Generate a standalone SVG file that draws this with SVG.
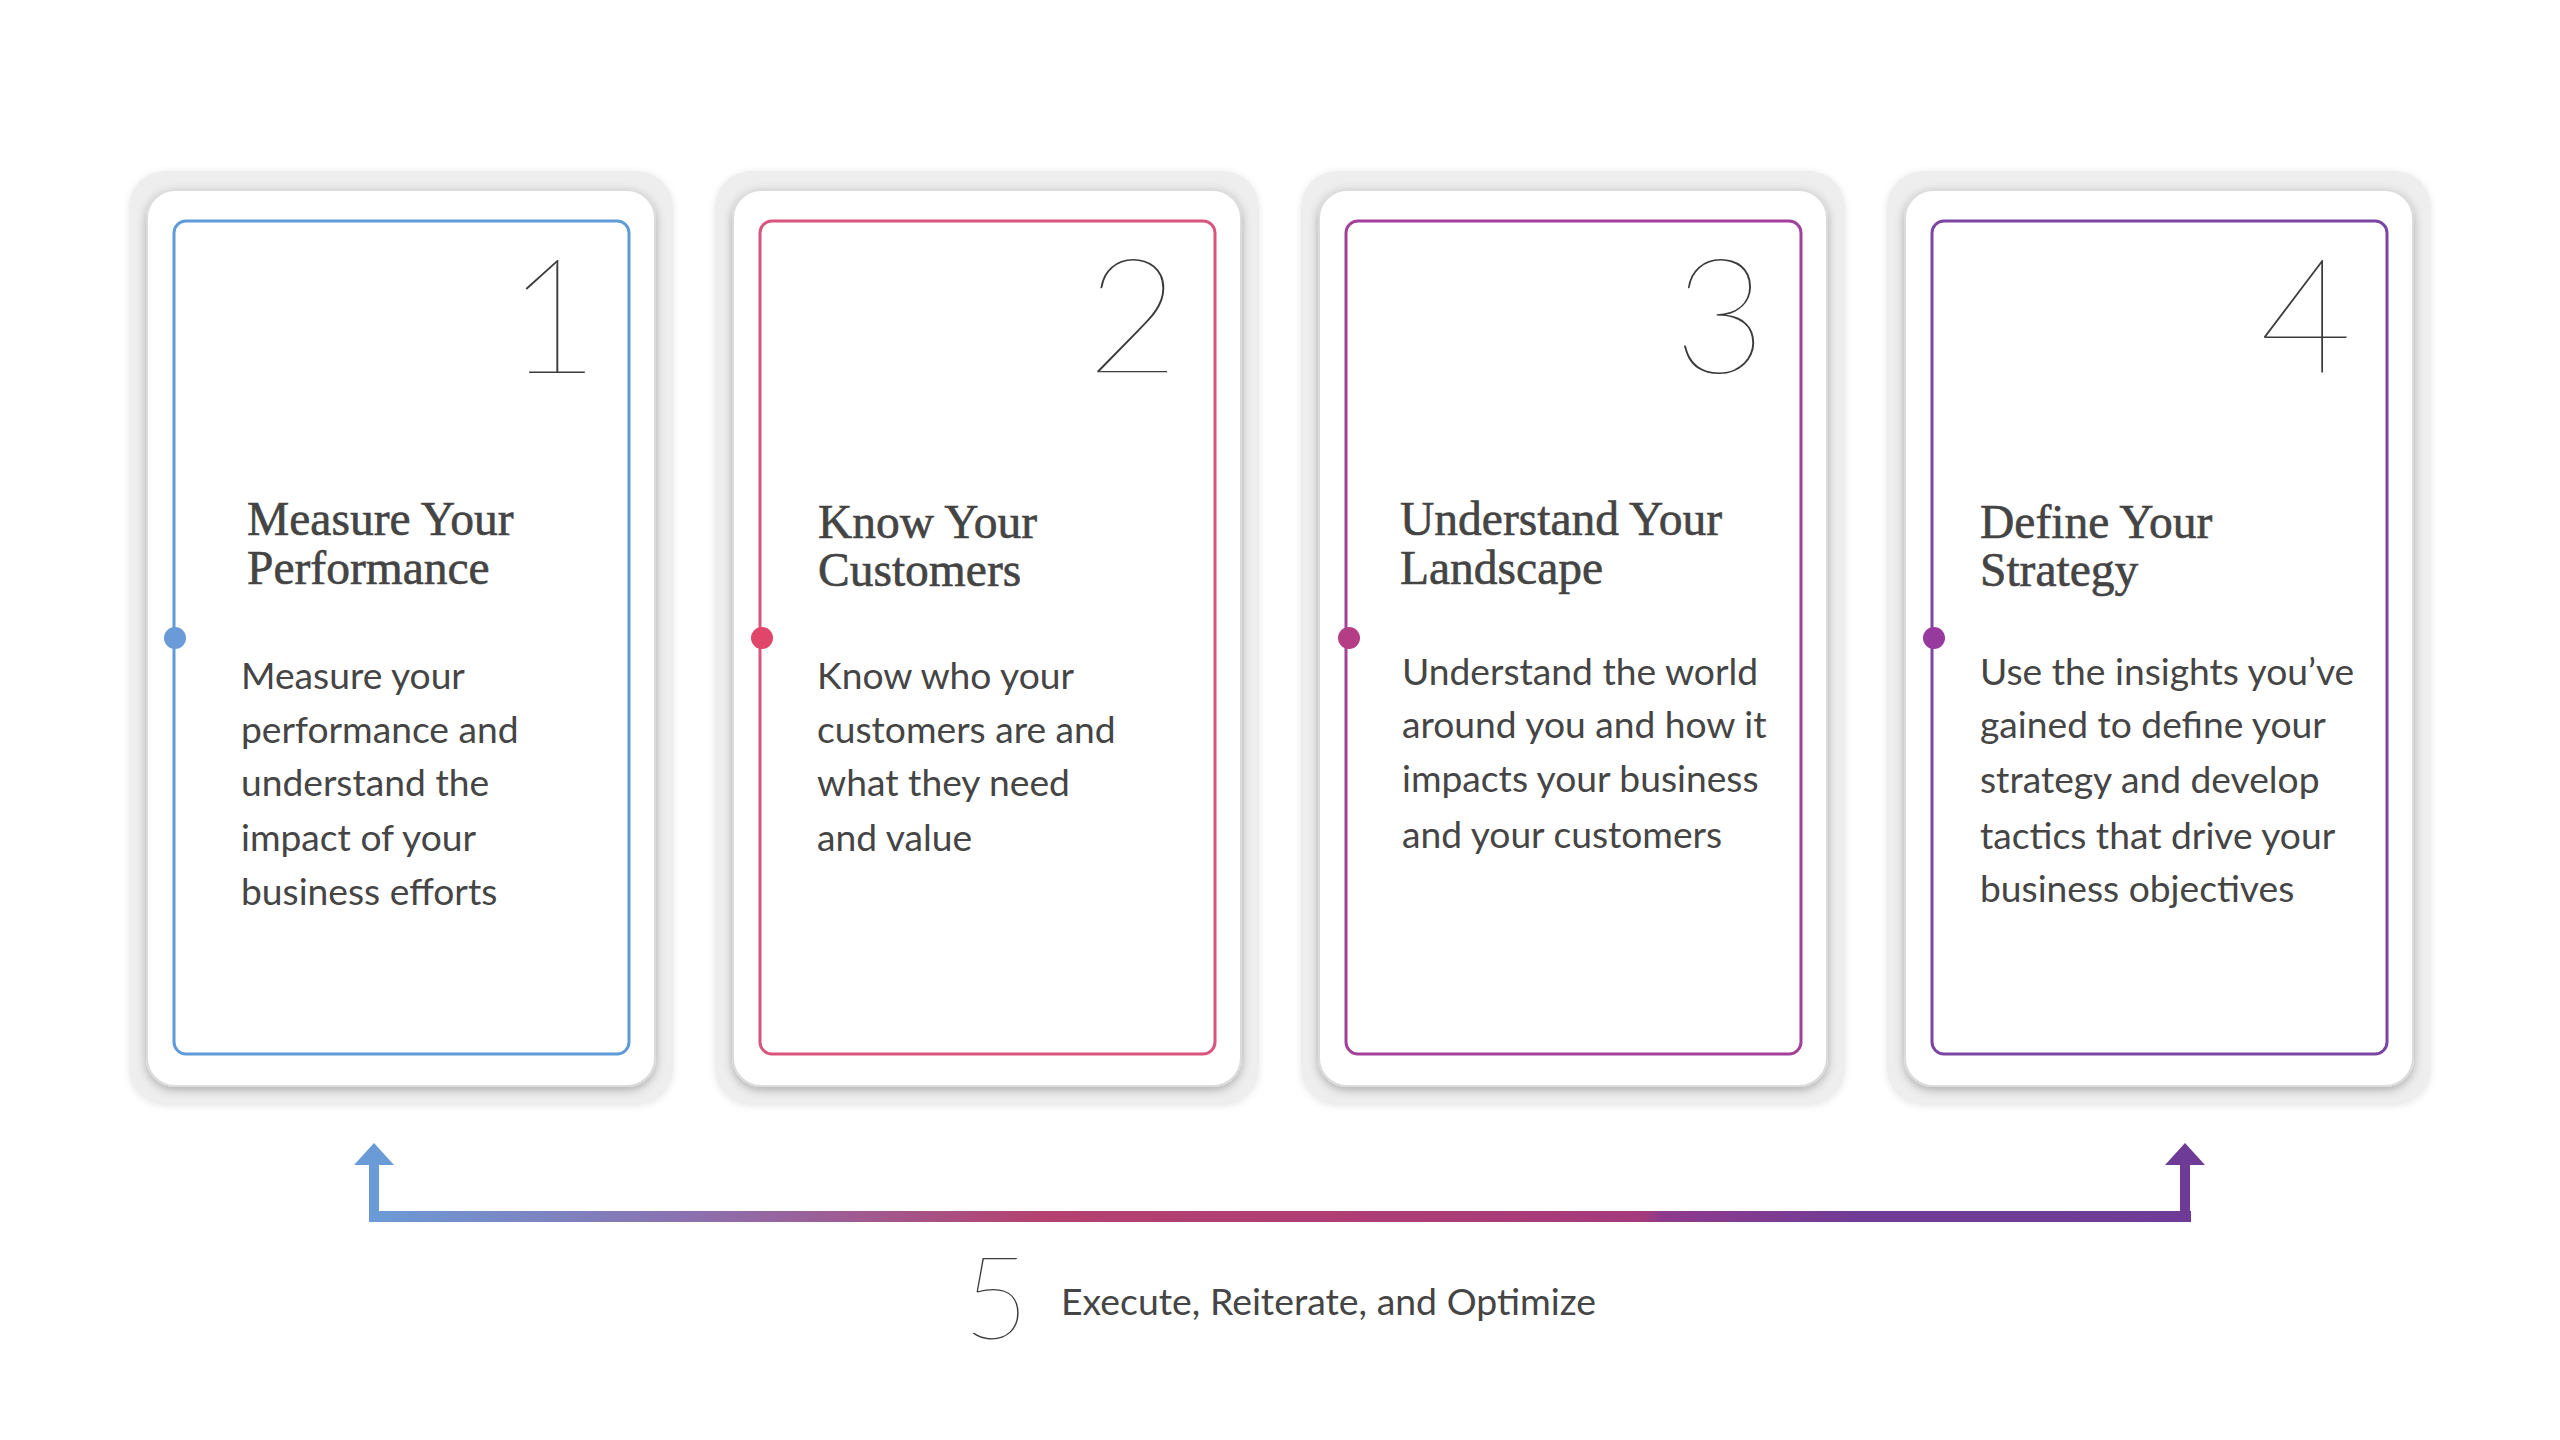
<svg xmlns="http://www.w3.org/2000/svg" width="2560" height="1440" viewBox="0 0 2560 1440">
<defs>
<filter id="sh" x="-10%" y="-10%" width="120%" height="120%">
<feDropShadow dx="0" dy="3" stdDeviation="5" flood-color="#000" flood-opacity="0.28"/>
</filter>
<filter id="sh2" x="-10%" y="-10%" width="120%" height="120%">
<feDropShadow dx="0" dy="1" stdDeviation="3" flood-color="#000" flood-opacity="0.10"/>
</filter>
<linearGradient id="bar" x1="369" y1="0" x2="2190" y2="0" gradientUnits="userSpaceOnUse">
<stop offset="0" stop-color="#6b9bd6"/>
<stop offset="0.17" stop-color="#8a72b0"/>
<stop offset="0.27" stop-color="#a05a90"/>
<stop offset="0.37" stop-color="#b4416f"/>
<stop offset="0.58" stop-color="#ac3d76"/>
<stop offset="0.70" stop-color="#a43a7d"/>
<stop offset="0.71" stop-color="#8e3a8c"/>
<stop offset="0.82" stop-color="#703c96"/>
<stop offset="1" stop-color="#6e3c96"/>
</linearGradient>
</defs>
<style>
.outer{fill:#eeeeee;}
.panel{fill:#ffffff;stroke:#dcdcdc;stroke-width:2;}
.bd{fill:#ffffff;stroke-width:3;}
.num{font-family:Lato,"Noto Sans",sans-serif;font-weight:100;font-size:160px;fill:#3c3c3c;text-anchor:middle;}
.ttl{font-family:"Liberation Serif","DejaVu Serif",serif;font-size:47.5px;fill:#444444;stroke:#444444;stroke-width:0.6;}
.body{font-family:Lato,"Noto Sans",sans-serif;font-size:37.2px;fill:#454545;}
.lbl{font-family:Lato,"Noto Sans",sans-serif;font-size:37.4px;fill:#454545;}
.five{font-family:Lato,"Noto Sans",sans-serif;font-weight:100;font-size:114px;fill:#3c3c3c;text-anchor:middle;}
</style>
<rect width="2560" height="1440" fill="#ffffff"/>

<g id="card1">
<rect class="outer" x="129" y="171" width="544" height="934" rx="36" filter="url(#sh2)"/>
<rect class="panel" x="147" y="190" width="508" height="896" rx="28" filter="url(#sh)"/>
<rect class="bd" x="174" y="221" width="455" height="833" rx="12" stroke="#5f9bd8"/>
<circle cx="175" cy="638" r="11" fill="#6a9bd8"/>
<text class="num" x="553" y="373">1</text>
<text class="ttl"><tspan x="247" y="535">Measure Your</tspan><tspan x="247" y="584">Performance</tspan></text>
<text class="body"><tspan x="241" y="689">Measure your</tspan><tspan x="241" y="743">performance and</tspan><tspan x="241" y="796">understand the</tspan><tspan x="241" y="851">impact of your</tspan><tspan x="241" y="905">business efforts</tspan></text>
</g>

<g id="card2">
<rect class="outer" x="715" y="171" width="544" height="934" rx="36" filter="url(#sh2)"/>
<rect class="panel" x="733" y="190" width="508" height="896" rx="28" filter="url(#sh)"/>
<rect class="bd" x="760" y="221" width="455" height="833" rx="12" stroke="#d9557d"/>
<circle cx="762" cy="638" r="11" fill="#e0456a"/>
<text class="num" x="1133" y="373">2</text>
<text class="ttl"><tspan x="818" y="538">Know Your</tspan><tspan x="818" y="586">Customers</tspan></text>
<text class="body"><tspan x="817" y="689">Know who your</tspan><tspan x="817" y="743">customers are and</tspan><tspan x="817" y="796">what they need</tspan><tspan x="817" y="851">and value</tspan></text>
</g>

<g id="card3">
<rect class="outer" x="1301" y="171" width="544" height="934" rx="36" filter="url(#sh2)"/>
<rect class="panel" x="1319" y="190" width="508" height="896" rx="28" filter="url(#sh)"/>
<rect class="bd" x="1346" y="221" width="455" height="833" rx="12" stroke="#a3409c"/>
<circle cx="1349" cy="638" r="11" fill="#b53d86"/>
<text class="num" x="1720" y="373">3</text>
<text class="ttl"><tspan x="1400" y="535">Understand Your</tspan><tspan x="1400" y="584">Landscape</tspan></text>
<text class="body"><tspan x="1402" y="685">Understand the world</tspan><tspan x="1402" y="738">around you and how it</tspan><tspan x="1402" y="792">impacts your business</tspan><tspan x="1402" y="848">and your customers</tspan></text>
</g>

<g id="card4">
<rect class="outer" x="1887" y="171" width="544" height="934" rx="36" filter="url(#sh2)"/>
<rect class="panel" x="1905" y="190" width="508" height="896" rx="28" filter="url(#sh)"/>
<rect class="bd" x="1932" y="221" width="455" height="833" rx="12" stroke="#7b45a3"/>
<circle cx="1934" cy="638" r="11" fill="#973a9e"/>
<text class="num" x="2306" y="373">4</text>
<text class="ttl"><tspan x="1980" y="538">Define Your</tspan><tspan x="1980" y="586">Strategy</tspan></text>
<text class="body"><tspan x="1980" y="685">Use the insights you’ve</tspan><tspan x="1980" y="738">gained to define your</tspan><tspan x="1980" y="793">strategy and develop</tspan><tspan x="1980" y="849">tactics that drive your</tspan><tspan x="1980" y="902">business objectives</tspan></text>
</g>

<g id="connectors">
<rect x="369" y="1211" width="1822" height="11" fill="url(#bar)"/>
<rect x="369" y="1160" width="10" height="62" fill="#6b9bd6"/>
<polygon points="374,1143 354,1165 394,1165" fill="#6b9bd6"/>
<rect x="2180" y="1160" width="10" height="62" fill="#6e3c96"/>
<polygon points="2185,1143 2165,1165 2205,1165" fill="#6e3c96"/>
</g>

<g id="step5">
<text class="five" x="996" y="1339">5</text>
<text class="lbl" x="1061" y="1315">Execute, Reiterate, and Optimize</text>
</g>
</svg>
